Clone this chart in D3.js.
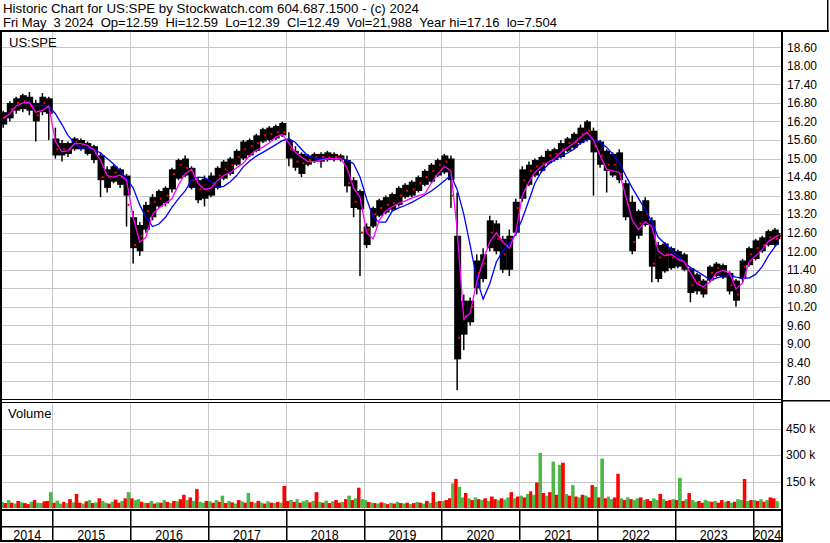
<!DOCTYPE html>
<html>
<head>
<meta charset="utf-8">
<script src="https://cdn.jsdelivr.net/npm/d3@7"></script>
<style>
body { margin: 0; background: #fff; }
svg { display: block; font-family: Arial, "Liberation Sans", sans-serif; }
</style>
</head>
<body>
<div id="chart"></div>
<script>
// monthly bars, May 2014 .. May 2024
const firstMonth = new Date(2014, 4, 1);
const lastDay = new Date(2024, 4, 3);

const bandHigh = [
  16.5, 16.8, 16.95, 17.05, 17.0, 16.8, 17.0, 16.95,
  15.65, 15.5, 15.5, 15.65, 15.6, 15.5, 15.4, 15.1, 14.65, 14.75, 14.65, 14.45,
  13.1, 12.85, 13.5, 13.75, 13.95, 14.05, 14.65, 14.95, 15.0, 14.7, 14.3, 14.35,
  14.45, 14.7, 14.9, 15.0, 15.25, 15.55, 15.6, 15.75, 15.95, 16.0, 16.05, 16.15,
  15.6, 15.25, 15.15, 15.1, 15.15, 15.15, 15.2, 15.15, 15.1, 14.95, 14.3, 13.95,
  12.8, 13.4, 13.65, 13.75, 13.85, 14.05, 14.15, 14.25, 14.4, 14.6, 14.8, 14.95,
  15.1, 15.0, 12.5, 10.4, 10.4, 11.7, 11.9, 13.0, 12.9, 12.4, 12.5, 13.6,
  14.65, 14.8, 14.95, 15.05, 15.25, 15.3, 15.5, 15.65, 15.8, 16.0, 16.2, 15.9,
  15.55, 15.25, 15.15, 15.2, 14.2, 13.6, 13.3, 13.65, 13.0, 12.2, 12.25, 12.1,
  12.0, 11.9, 11.45, 11.25, 11.05, 11.5, 11.6, 11.55, 11.3, 11.05, 11.7, 12.1,
  12.35, 12.45, 12.65, 12.7, 12.59
];
const bandLow = [
  16.1, 16.3, 16.55, 16.6, 16.55, 16.2, 16.5, 16.45,
  15.1, 15.1, 15.15, 15.3, 15.3, 15.15, 14.95, 14.3, 14.05, 14.25, 14.15, 13.8,
  12.1, 12.0, 12.7, 13.1, 13.45, 13.55, 14.0, 14.35, 14.45, 14.05, 13.65, 13.7,
  13.8, 14.05, 14.35, 14.5, 14.8, 15.0, 15.1, 15.25, 15.55, 15.6, 15.65, 15.75,
  15.0, 14.7, 14.5, 14.8, 14.9, 14.9, 14.95, 14.95, 14.95, 14.1, 13.4, 13.35,
  12.2, 12.8, 13.15, 13.25, 13.35, 13.5, 13.75, 13.8, 13.95, 14.15, 14.25, 14.45,
  14.55, 14.3, 8.5, 9.3, 9.7, 10.8, 11.1, 12.1, 12.0, 11.4, 11.4, 12.6,
  13.7, 14.15, 14.45, 14.6, 14.85, 14.95, 15.05, 15.25, 15.35, 15.5, 15.6, 15.2,
  14.8, 14.6, 14.45, 14.3, 13.1, 12.0, 12.5, 12.85, 11.5, 11.1, 11.35, 11.45,
  11.5, 11.4, 10.65, 10.7, 10.6, 11.05, 11.2, 11.15, 10.7, 10.4, 11.1, 11.55,
  11.75, 12.0, 12.2, 12.2, 12.39
];
const priceHigh = [
  16.55, 16.85, 17.0, 17.1, 17.15, 16.9, 17.12, 17.0,
  16.0, 15.6, 15.55, 15.7, 15.65, 15.55, 15.45, 15.2, 14.75, 14.8, 14.7, 14.5,
  13.3, 12.95, 13.6, 13.85, 14.0, 14.1, 14.7, 15.0, 15.1, 14.75, 14.4, 14.45,
  14.55, 14.75, 14.95, 15.05, 15.3, 15.6, 15.65, 15.8, 16.0, 16.05, 16.1, 16.2,
  15.85, 15.4, 15.2, 15.15, 15.2, 15.2, 15.25, 15.2, 15.15, 15.1, 14.4, 14.0,
  12.9, 13.45, 13.7, 13.8, 13.9, 14.1, 14.2, 14.3, 14.45, 14.65, 14.85, 15.0,
  15.15, 15.1, 13.9, 10.6, 10.5, 11.9, 12.1, 13.15, 13.0, 12.5, 12.7, 13.7,
  14.75, 14.9, 15.0, 15.1, 15.3, 15.35, 15.6, 15.7, 15.85, 16.1, 16.25, 16.0,
  15.6, 15.3, 15.2, 15.3, 14.3, 13.8, 13.35, 13.75, 13.1, 12.3, 12.3, 12.15,
  12.05, 11.95, 11.5, 11.3, 11.1, 11.55, 11.65, 11.6, 11.35, 11.1, 11.75, 12.15,
  12.4, 12.5, 12.7, 12.75, 12.59
];
const priceLow = [
  16.0, 16.2, 16.45, 16.5, 16.4, 15.55, 16.4, 15.6,
  15.0, 14.9, 15.05, 15.25, 15.25, 15.1, 14.85, 13.75, 13.9, 14.2, 14.05, 12.8,
  11.6, 11.85, 12.6, 13.0, 13.4, 13.45, 13.9, 14.3, 14.4, 14.0, 13.55, 13.45,
  13.75, 14.0, 14.3, 14.45, 14.75, 14.95, 15.05, 15.2, 15.5, 15.55, 15.6, 15.7,
  14.75, 14.6, 14.4, 14.75, 14.85, 14.7, 14.9, 14.9, 14.9, 13.9, 13.1, 11.2,
  12.1, 12.75, 13.1, 13.2, 13.3, 13.45, 13.7, 13.75, 13.9, 14.1, 14.2, 14.4,
  14.5, 13.4, 7.5, 8.8, 9.6, 10.6, 11.0, 12.0, 11.9, 11.3, 11.2, 12.5,
  13.6, 14.1, 14.4, 14.55, 14.8, 14.9, 15.0, 15.2, 15.3, 15.45, 15.55, 13.8,
  14.7, 13.9, 14.4, 14.2, 13.0, 11.9, 12.4, 12.8, 11.0, 11.0, 11.3, 11.4,
  11.45, 11.35, 10.35, 10.6, 10.5, 11.0, 11.15, 11.1, 10.6, 10.2, 11.0, 11.5,
  11.7, 11.95, 12.15, 12.15, 12.39
];
const priceClose = [
  16.35, 16.6, 16.8, 16.85, 16.7, 16.4, 16.8, 16.5,
  15.3, 15.3, 15.3, 15.55, 15.45, 15.35, 15.15, 14.4, 14.4, 14.55, 14.4, 13.5,
  12.2, 12.5, 13.3, 13.6, 13.7, 13.8, 14.5, 14.8, 14.7, 14.3, 14.0, 14.0,
  14.2, 14.45, 14.65, 14.8, 15.05, 15.3, 15.4, 15.5, 15.75, 15.8, 15.85, 15.85,
  15.3, 14.9, 14.85, 14.95, 15.05, 15.05, 15.05, 15.05, 15.0, 14.2, 13.6, 12.6,
  12.7, 13.2, 13.4, 13.5, 13.55, 13.8, 13.95, 14.0, 14.2, 14.4, 14.6, 14.8,
  14.9, 13.8, 9.2, 9.9, 10.2, 11.3, 11.6, 12.6, 12.4, 11.9, 12.4, 13.4,
  14.3, 14.6, 14.75, 14.85, 15.1, 15.15, 15.3, 15.5, 15.55, 15.8, 15.9, 15.4,
  15.1, 14.8, 14.8, 14.5, 13.5, 12.3, 12.9, 13.2, 11.6, 11.8, 11.9, 11.8,
  11.7, 11.6, 10.9, 11.0, 10.8, 11.3, 11.45, 11.35, 10.9, 10.6, 11.5, 11.9,
  12.1, 12.2, 12.45, 12.4, 12.49
];

// moving averages, read at mid-month
const maFast = [
  16.3, 16.45, 16.7, 16.8, 16.82, 16.5, 16.56, 16.7,
  15.55, 15.22, 15.25, 15.48, 15.48, 15.42, 15.28, 14.95, 14.45, 14.4, 14.46, 14.3,
  13.1, 12.3, 12.45, 13.2, 13.4, 13.55, 13.7, 14.15, 14.5, 14.65, 14.2, 14.0,
  14.05, 14.3, 14.45, 14.55, 14.7, 14.85, 15.1, 15.27, 15.37, 15.5, 15.7, 15.78,
  15.5, 15.2, 15.05, 14.9, 14.9, 14.95, 15.0, 15.0, 15.0, 14.7, 14.05, 13.75,
  12.6, 12.4, 13.0, 13.3, 13.43, 13.55, 13.63, 13.72, 13.8, 13.86, 14.2, 14.5,
  14.75, 14.6, 12.7, 9.8, 10.0, 11.0, 11.7, 12.3, 12.6, 12.3, 12.1, 12.6,
  13.8, 14.25, 14.55, 14.75, 14.88, 15.0, 15.2, 15.35, 15.5, 15.69, 15.85, 15.6,
  15.1, 14.65, 14.6, 14.55, 13.8, 13.0, 12.7, 12.95, 12.8, 12.0, 11.85, 11.9,
  11.75, 11.65, 11.3, 10.95, 10.85, 11.0, 11.3, 11.38, 11.3, 10.78, 10.97, 11.65,
  11.85, 12.05, 12.32, 12.45, 12.52
];
const maSlow = [
  null, null, null, null, 16.72, 16.72, 16.72, 16.7,
  16.45, 16.1, 15.75, 15.5, 15.33, 15.36, 15.3, 15.18, 15.0, 14.82, 14.6, 14.35,
  14.05, 13.5, 13.1, 12.8, 12.88, 13.1, 13.42, 13.7, 13.95, 14.3, 14.4, 14.38,
  14.25, 14.07, 14.1, 14.25, 14.45, 14.73, 14.92, 15.08, 15.2, 15.32, 15.45, 15.58,
  15.64, 15.52, 15.3, 15.08, 15.02, 15.0, 15.0, 15.0, 15.0, 14.95, 14.83, 14.4,
  13.7, 13.1, 12.94, 12.94, 13.3, 13.4, 13.48, 13.58, 13.7, 13.82, 13.95, 14.1,
  14.28, 14.45, 14.0, 13.2, 12.2, 11.1, 10.45, 10.95, 11.65, 12.0, 12.25, 12.55,
  13.05, 13.65, 14.2, 14.58, 14.8, 14.95, 15.08, 15.18, 15.3, 15.5, 15.62, 15.62,
  15.53, 15.36, 15.15, 14.87, 14.45, 14.05, 13.7, 13.35, 12.95, 12.45, 12.25, 12.05,
  11.85, 11.65, 11.47, 11.35, 11.22, 11.07, 11.13, 11.2, 11.23, 11.16, 11.13, 11.13,
  11.25, 11.5, 11.85, 12.15, 12.3
];

// volume in thousands, half-month buckets (1st-15th, 16th-end)
const volume = [
  35, 28, 45, 30, 25, 40, 32, 28, 22, 35, 45, 30, 28, 38, 40, 90,
  30, 42, 25, 35, 28, 50, 32, 80, 30, 25, 38, 45, 28, 32, 55, 40, 30, 25, 35, 48, 30, 40, 55, 90,
  55, 45, 50, 35, 30, 28, 40, 25, 32, 30, 45, 35, 28, 40, 38, 50, 75, 45, 60, 40, 107, 35, 30, 40,
  38, 30, 45, 35, 70, 28, 40, 32, 25, 45, 38, 30, 85, 35, 28, 40, 30, 25, 38, 30, 28, 35, 30, 125,
  40, 45, 35, 50, 30, 38, 45, 32, 40, 90, 35, 30, 42, 28, 38, 45, 30, 35, 50, 70, 45, 55, 115, 50,
  45, 35, 30, 28, 25, 32, 28, 22, 30, 25, 35, 28, 25, 30, 22, 28, 35, 30, 25, 40, 30, 90, 35, 40,
  40, 45, 55, 140, 165, 120, 60, 85, 55, 45, 60, 50, 45, 55, 40, 65, 50, 45, 55, 48, 60, 90, 55, 65,
  70, 60, 80, 95, 75, 145, 313, 85, 70, 90, 263, 75, 245, 257, 80, 70, 130, 65, 60, 75, 70, 60, 130, 120,
  60, 280, 55, 65, 50, 60, 194, 55, 45, 60, 50, 45, 55, 60, 45, 50, 40, 55, 45, 80, 50, 40, 45, 50,
  45, 171, 40, 50, 85, 45, 35, 40, 30, 45, 38, 35, 40, 30, 45, 35, 40, 30, 35, 50, 45, 165, 40, 45,
  45, 40, 50, 35, 45, 60, 55, 40, 30
];

const years = [2014, 2015, 2016, 2017, 2018, 2019, 2020, 2021, 2022, 2023, 2024];
const priceTicks = [7.8, 8.4, 9.0, 9.6, 10.2, 10.8, 11.4, 12.0, 12.6, 13.2, 13.8, 14.4, 15.0, 15.6, 16.2, 16.8, 17.4, 18.0, 18.6];
const volumeTicks = [150, 300, 450];
const headerLines = [
  'Historic Chart for US:SPE by Stockwatch.com 604.687.1500 - (c) 2024',
  'Fri May  3 2024  Op=12.59  Hi=12.59  Lo=12.39  Cl=12.49  Vol=21,988  Year hi=17.16  lo=7.504'
];

drawChart('chart');

function drawChart(id) {
  const width = 830, height = 543;
  const left = 2, right = 782;
  const priceTop = 32, priceBottom = 399;
  const volTop = 403, volBottom = 509;
  const grid = '#c8c8c8';

  const svg = d3.select(`#${id}`)
    .append('svg')
    .attr('width', width)
    .attr('height', height);

  const x = d3.scaleTime()
    .domain([new Date(2015, 0, 1), new Date(2024, 0, 1)])
    .range([52.4, 752.6]);
  const y = d3.scaleLinear()
    .domain([7.8, 18.6])
    .range([381, 47.3]);
  const yVol = d3.scaleLinear()
    .domain([0, 450])
    .range([508, 428.7]);

  const months = d3.timeMonth.range(firstMonth, new Date(2024, 5, 1));
  const monthEnd = (i) => i < months.length - 1 ? months[i + 1] : d3.timeDay.offset(lastDay, 1);
  const monthMid = (m) => new Date(m.getFullYear(), m.getMonth(), 15);

  const defs = svg.append('defs');
  defs.append('clipPath').attr('id', 'clipPrice')
    .append('rect').attr('x', left).attr('y', priceTop).attr('width', right - left).attr('height', priceBottom - priceTop);
  defs.append('clipPath').attr('id', 'clipVol')
    .append('rect').attr('x', left).attr('y', volTop).attr('width', right - left).attr('height', volBottom - volTop);

  // header
  headerLines.forEach((t, i) => {
    svg.append('text')
      .attr('x', 3)
      .attr('y', 12.5 + i * 14.5)
      .attr('font-size', 13)
      .attr('textLength', i === 0 ? 416 : 554)
      .attr('lengthAdjust', 'spacingAndGlyphs')
      .style('white-space', 'pre')
      .text(t);
  });

  // grid
  const yearStarts = years.slice(1).map(yr => new Date(yr, 0, 1));
  const gridG = svg.append('g').attr('stroke', grid).attr('stroke-width', 1);
  gridG.selectAll('.hp').data(priceTicks).join('line')
    .attr('x1', left).attr('x2', right)
    .attr('y1', d => Math.round(y(d)) + 0.5).attr('y2', d => Math.round(y(d)) + 0.5);
  gridG.selectAll('.hv').data(volumeTicks).join('line')
    .attr('x1', left).attr('x2', right)
    .attr('y1', d => Math.round(yVol(d)) + 0.5).attr('y2', d => Math.round(yVol(d)) + 0.5);
  gridG.selectAll('.vp').data(yearStarts).join('line')
    .attr('x1', d => Math.round(x(d)) + 0.5).attr('x2', d => Math.round(x(d)) + 0.5)
    .attr('y1', priceTop).attr('y2', priceBottom);
  gridG.selectAll('.vv').data(yearStarts).join('line')
    .attr('x1', d => Math.round(x(d)) + 0.5).attr('x2', d => Math.round(x(d)) + 0.5)
    .attr('y1', volTop).attr('y2', volBottom);

  // price bars
  const price = svg.append('g').attr('clip-path', 'url(#clipPrice)');
  price.selectAll('.band').data(months).join('rect')
    .attr('x', d => x(d))
    .attr('width', (d, i) => Math.max(2, x(monthEnd(i)) - x(d) + 0.4))
    .attr('y', (d, i) => y(bandHigh[i]))
    .attr('height', (d, i) => y(bandLow[i]) - y(bandHigh[i]))
    .attr('fill', '#000');
  price.selectAll('.wick').data(months).join('line')
    .attr('x1', (d, i) => x(i < months.length - 1 ? monthMid(d) : lastDay))
    .attr('x2', (d, i) => x(i < months.length - 1 ? monthMid(d) : lastDay))
    .attr('y1', (d, i) => y(priceHigh[i]))
    .attr('y2', (d, i) => y(priceLow[i]))
    .attr('stroke', '#000')
    .attr('stroke-width', 1.5);
  price.selectAll('.close').data(months).join('rect')
    .attr('x', (d, i) => x(i < months.length - 1 ? monthMid(d) : lastDay) + 1)
    .attr('y', (d, i) => y(priceClose[i]) - 1)
    .attr('width', 2)
    .attr('height', 2)
    .attr('fill', '#ff0000');

  const maLine = (vals) => d3.line()
    .defined((d, i) => vals[i] != null)
    .x((d, i) => x(i < months.length - 1 ? monthMid(d) : lastDay))
    .y((d, i) => y(vals[i]));
  price.append('path')
    .datum(months)
    .attr('fill', 'none')
    .attr('stroke', '#0000ff')
    .attr('stroke-width', 1.3)
    .attr('d', maLine(maSlow));
  price.append('path')
    .datum(months)
    .attr('fill', 'none')
    .attr('stroke', '#ff00ff')
    .attr('stroke-width', 1.3)
    .attr('d', maLine(maFast));

  // volume bars
  const halves = months.flatMap(m => [m, new Date(m.getFullYear(), m.getMonth(), 16)]).slice(0, volume.length);
  const halfEnd = (i) => i < halves.length - 1 ? halves[i + 1] : d3.timeDay.offset(lastDay, 1);
  const vol = svg.append('g').attr('clip-path', 'url(#clipVol)');
  vol.selectAll('rect').data(halves).join('rect')
    .attr('x', d => x(d))
    .attr('width', (d, i) => x(halfEnd(i)) - x(d) + 0.3)
    .attr('y', (d, i) => yVol(volume[i]))
    .attr('height', (d, i) => yVol(0) - yVol(volume[i]))
    .attr('fill', (d, i) => {
      const m = Math.floor(i / 2);
      const up = m === 0 || priceClose[m] >= priceClose[m - 1];
      return (up ? i % 2 === 0 : i % 2 === 1) ? '#4db848' : '#ff0000';
    });

  // panel labels
  svg.append('text').attr('x', 9).attr('y', 46.5).attr('font-size', 13).text('US:SPE');
  svg.append('text').attr('x', 8).attr('y', 418).attr('font-size', 13).text('Volume');

  // right axes
  const axisP = svg.append('g')
    .attr('transform', `translate(${right},0)`)
    .call(d3.axisRight(y).tickValues(priceTicks).tickSize(0).tickPadding(5).tickFormat(d3.format('.2f')));
  const axisV = svg.append('g')
    .attr('transform', `translate(${right},0)`)
    .call(d3.axisRight(yVol).tickValues(volumeTicks).tickSize(0).tickPadding(4).tickFormat(d => d + ' k'));
  [axisP, axisV].forEach(a => {
    a.select('.domain').remove();
    a.selectAll('text').attr('font-size', 12).attr('font-family', 'Arial, "Liberation Sans", sans-serif').attr('fill', '#000');
  });

  // frame
  const frame = svg.append('g').attr('fill', '#000');
  frame.append('rect').attr('x', 0).attr('y', 30).attr('width', 829).attr('height', 2);
  frame.append('rect').attr('x', 827).attr('y', 0).attr('width', 1.5).attr('height', 31);
  frame.append('rect').attr('x', 0).attr('y', 30).attr('width', 2).attr('height', 512);
  frame.append('rect').attr('x', 781).attr('y', 30).attr('width', 2).attr('height', 512);
  frame.append('rect').attr('x', 0).attr('y', 399).attr('width', 782).attr('height', 1);
  frame.append('rect').attr('x', 0).attr('y', 402).attr('width', 782).attr('height', 1);
  frame.append('rect').attr('x', 782).attr('y', 400).attr('width', 48).attr('height', 1.5);
  frame.append('rect').attr('x', 0).attr('y', 509).attr('width', 782).attr('height', 2);
  frame.append('rect').attr('x', 0).attr('y', 526).attr('width', 782).attr('height', 1.5);
  frame.append('rect').attr('x', 0).attr('y', 540).attr('width', 782).attr('height', 2);

  // year cells
  const bounds = [left].concat(yearStarts.map(d => x(d)), [right]);
  frame.selectAll('.ysep').data(yearStarts).join('rect')
    .attr('x', d => Math.round(x(d)))
    .attr('y', 510)
    .attr('width', 1.5)
    .attr('height', 31);
  svg.append('g').selectAll('text').data(years).join('text')
    .attr('transform', (d, i) => `translate(${(bounds[i] + bounds[i + 1]) / 2},539.5) scale(1,1.15)`)
    .attr('text-anchor', 'middle')
    .attr('font-size', 12.5)
    .text(d => d);
}
</script>
</body>
</html>
